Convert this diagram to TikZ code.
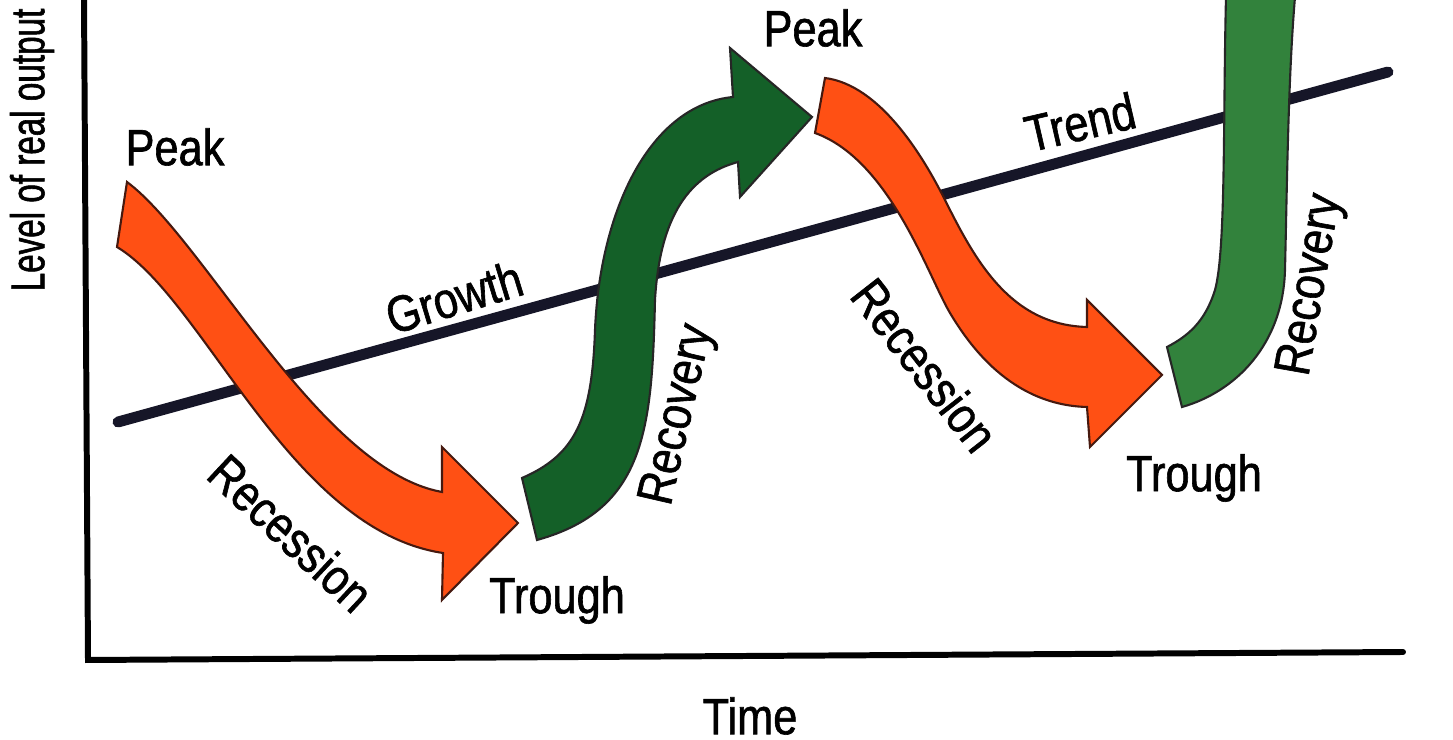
\documentclass[tikz,border=0pt]{standalone}
\usepackage{fontspec}
\setmainfont{Liberation Sans}[FakeStretch=0.85, FakeBold=1.2]
\newfontfamily\axisfont{Liberation Sans}[FakeStretch=0.7, FakeBold=1.2]

\definecolor{recessionred}{RGB}{255,80,20}
\definecolor{recoverygreen}{RGB}{20,96,40}
\definecolor{recoverylight}{RGB}{50,130,60}
\definecolor{trendnavy}{RGB}{22,22,40}
\definecolor{edgebrown}{RGB}{70,25,15}

\tikzset{
  lbl/.style={font=\fontsize{14.5}{17}\selectfont, inner sep=0pt},
  axislbl/.style={font=\axisfont\fontsize{13.5}{16}\selectfont, inner sep=0pt},
  phase/.style={draw=edgebrown, line width=0.6pt, line join=miter},
  axisline/.style={line width=1.7pt, line cap=round},
}

\begin{document}
\begin{tikzpicture}[x=0.01cm, y=-0.01cm]
\useasboundingbox (0,0) rectangle (1453,740);

\coordinate (ytop) at (84,-2);
\coordinate (origin) at (88,660);
\coordinate (xend) at (1403,652);
\draw[axisline] (ytop) -- (origin) -- (xend);

\coordinate (trendstart) at (118,422);
\coordinate (trendend) at (1388,72);
\draw[trendnavy, line width=3.1pt, line cap=round] (trendstart) -- (trendend);

% first recession
\filldraw[phase, fill=recessionred] (127,182) .. controls (205,240) and (320,470) .. (442,492)
  -- (442,447) -- (518,523) -- (442,600) -- (443,553)
  .. controls (290,530) and (205,300) .. (117,247) -- cycle;

% first recovery
\filldraw[phase, draw=black!85, fill=recoverygreen] (522,478) .. controls (575,455) and (592,420) .. (595,330)
  .. controls (600,210) and (650,105) .. (733,97)
  -- (730,48) -- (812,117) -- (740,197) -- (738,162)
  .. controls (690,175) and (660,215) .. (655,300)
  .. controls (652,430) and (645,510) .. (537,540) -- cycle;

% second recession
\filldraw[phase, fill=recessionred] (825,78) .. controls (880,85) and (923,156) .. (945,200)
  .. controls (975,260) and (1010,325) .. (1087,327)
  -- (1087,300) -- (1162,375) -- (1090,447) -- (1087,407)
  .. controls (1010,405) and (968,343) .. (950,313)
  .. controls (928,276) and (890,160) .. (815,133) -- cycle;

% second recovery
\filldraw[phase, draw=black!85, fill=recoverylight] (1226,-3) .. controls (1223,120) and (1226,250) .. (1215,290)
  .. controls (1205,322) and (1188,336) .. (1167,347) -- (1182,407)
  .. controls (1235,392) and (1283,345) .. (1285,270)
  .. controls (1287,190) and (1288,80) .. (1295,-3) -- cycle;

\node[lbl] (peakA) at (175,147) {Peak};
\node[lbl] (peakB) at (813,28) {Peak};
\node[lbl] (troughA) at (557,600) {Trough};
\node[lbl] (troughB) at (1194,478) {Trough};
\node[lbl, rotate=-43] (recessionA) at (291,533) {Recession};
\node[lbl, rotate=-52] (recessionB) at (925,365) {Recession};
\node[lbl, rotate=77] (recoveryA) at (679,415) {Recovery};
\node[lbl, rotate=80] (recoveryB) at (1312,285) {Recovery};
\node[lbl, rotate=17] (growth) at (454,297) {Growth};
\node[lbl, rotate=13] (trend) at (1080,122) {Trend};
\node[lbl] (time) at (750,716) {Time};
\node[axislbl, rotate=90] (output) at (32,150) {Level of real output};

\end{tikzpicture}
\end{document}
